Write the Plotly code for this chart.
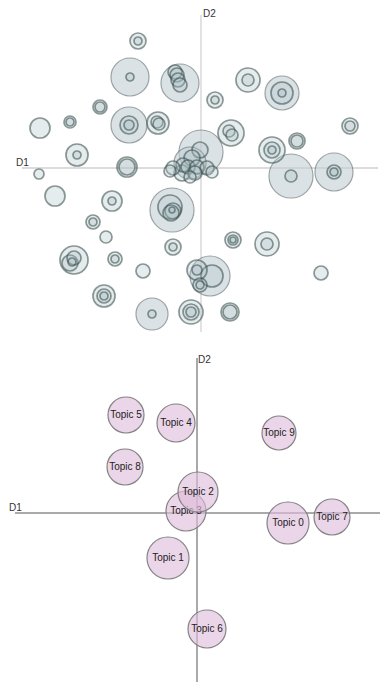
import plotly.graph_objects as go

# ---------------- Top panel: word/document bubbles (D1, D2, weight) ----------------
ring_d1 = [
    -0.63, -0.63,
    -0.71, -0.71,
    -0.21, -0.26, -0.24, -0.23, -0.21,
    -1.01, -1.01,
    -0.72, -0.72, -0.72,
    -0.43, -0.44, -0.42,
    -1.31, -1.31,
    -1.61,
    -1.24, -1.24,
    -0.74, -0.74,
    -1.62,
    0.47, 0.47,
    0.81, 0.81, 0.81,
    0.14, 0.14,
    1.49, 1.49,
    0.30, 0.28, 0.31,
    0.96, 0.96,
    0.71, 0.71, 0.71,
    0.90, 0.90,
    1.33, 1.33, 1.33,
    0.00, -0.11, -0.01, -0.09, -0.18, -0.28, -0.31, -0.13, -0.04, 0.06, 0.11, -0.19, -0.06, -0.11,
    -0.29, -0.31, -0.28, -0.30, -0.29,
    -1.46,
    -0.89, -0.89,
    -1.08, -1.08,
    -0.95,
    -1.27, -1.31, -1.27, -1.29,
    -0.86, -0.86,
    -0.58,
    -0.97, -0.97, -0.97,
    -0.49, -0.49,
    -0.10, -0.10, -0.10,
    -0.28, -0.28,
    0.32, 0.32, 0.32,
    0.66, 0.66,
    1.20,
    0.09, 0.11, -0.04, -0.04, -0.01, -0.01,
    0.29, 0.29,
]
ring_d2 = [
    1.27, 1.27,
    0.91, 0.91,
    0.85, 0.96, 0.93, 0.88, 0.83,
    0.61, 0.61,
    0.43, 0.43, 0.43,
    0.45, 0.46, 0.44,
    0.46, 0.46,
    0.40,
    0.13, 0.13,
    0.01, 0.01,
    -0.06,
    0.88, 0.88,
    0.75, 0.75, 0.75,
    0.68, 0.68,
    0.42, 0.42,
    0.35, 0.37, 0.33,
    0.27, 0.27,
    0.18, 0.18, 0.18,
    -0.08, -0.08,
    -0.04, -0.04, -0.04,
    0.16, 0.05, 0.18, 0.10, 0.03, 0.00, -0.03, 0.01, 0.01, 0.00, -0.04, -0.05, -0.05, -0.09,
    -0.42, -0.39, -0.43, -0.45, -0.42,
    -0.28,
    -0.33, -0.33,
    -0.54, -0.54,
    -0.69,
    -0.92, -0.95, -0.90, -0.94,
    -0.91, -0.91,
    -1.03,
    -1.28, -1.28, -1.28,
    -1.46, -1.46,
    -1.44, -1.44, -1.44,
    -0.79, -0.79,
    -0.72, -0.72, -0.72,
    -0.76, -0.76,
    -1.05,
    -1.08, -1.08, -1.02, -1.02, -1.17, -1.17,
    -1.44, -1.44,
]
ring_weight = [
    8, 4,
    19, 4,
    19, 7, 7, 7, 7,
    7, 5,
    18, 9, 5,
    11, 6, 6,
    6, 4,
    10,
    11, 4,
    10, 8,
    5,
    12, 6,
    17, 11, 4,
    8, 4,
    8, 5,
    13, 6, 6,
    8, 6,
    13, 8, 4,
    22, 6,
    19, 7, 4,
    22, 16, 8, 8, 7, 7, 6, 7, 7, 7, 6, 8, 7, 6,
    22, 12, 8, 8, 3,
    10,
    10, 4,
    7, 4,
    6,
    14, 8, 7, 4,
    7, 4,
    7,
    11, 7, 4,
    16, 4,
    12, 8, 5,
    8, 4,
    8, 5, 3,
    12, 6,
    7,
    20, 11, 10, 5, 7, 4,
    9, 7,
]

# ---------------- Bottom panel: topics ----------------
topic_names = ["Topic 0", "Topic 1", "Topic 2", "Topic 3", "Topic 4",
               "Topic 5", "Topic 6", "Topic 7", "Topic 8", "Topic 9"]
topic_d1 = [0.91, -0.29, 0.01, -0.11, -0.21, -0.71, 0.10, 1.35, -0.72, 0.82]
topic_d2 = [-0.10, -0.45, 0.21, 0.02, 0.90, 0.98, -1.16, -0.04, 0.46, 0.80]
topic_weight = [21, 21, 20, 20, 19, 18, 19, 18, 18, 17]

PX = 2  # weight -> marker diameter (px)

fig = go.Figure()

order = sorted(range(len(ring_weight)), key=lambda i: -ring_weight[i])
rx = [ring_d1[i] for i in order]
ry = [ring_d2[i] for i in order]
rw = [ring_weight[i] for i in order]
line_cols = ["rgba(105,118,120,0.95)" if w >= 15 else "rgba(60,82,80,0.85)" for w in rw]
line_ws = [1.2 if w >= 15 else 1.7 for w in rw]
fill_cols = ["rgba(195,207,214,0.85)" if w >= 15 else "rgba(175,196,200,0.45)" for w in rw]

fig.add_trace(go.Scatter(
    x=rx, y=ry, mode="markers", xaxis="x", yaxis="y", cliponaxis=False,
    marker=dict(size=[w * PX for w in rw], color=fill_cols,
                line=dict(color=line_cols, width=line_ws)),
    hoverinfo="skip", showlegend=False,
))

for i in reversed(range(len(topic_names))):
    fig.add_trace(go.Scatter(
        x=[topic_d1[i]], y=[topic_d2[i]], mode="markers+text",
        xaxis="x2", yaxis="y2", cliponaxis=False,
        text=[topic_names[i]], textposition="middle center",
        textfont=dict(family="Liberation Sans, Arial, sans-serif", size=10, color="#222"),
        marker=dict(size=topic_weight[i] * PX, color="rgba(222,188,218,0.62)",
                    line=dict(color="rgba(125,125,125,0.95)", width=1.2)),
        hoverinfo="skip", showlegend=False,
    ))

W, H = 380, 680
SPLIT = 336  # figure px where the panels meet
ax = dict(visible=False, showgrid=False, zeroline=False, fixedrange=True)
lab = dict(family="Liberation Sans, Arial", size=10, color="#333")
fig.update_layout(
    width=W, height=H, margin=dict(l=0, r=0, t=0, b=0),
    paper_bgcolor="white", plot_bgcolor="rgba(0,0,0,0)", showlegend=False,
    hovermode=False,
    xaxis=dict(ax, domain=[0, 1], range=[-1.93, 1.87]),
    yaxis=dict(ax, domain=[(H - SPLIT) / H, 1], range=[-1.76, 1.60]),
    xaxis2=dict(ax, domain=[0, 1], range=[-1.89, 1.91], anchor="y2"),
    yaxis2=dict(ax, domain=[0, (H - SPLIT) / H], range=[-1.75, 1.69], anchor="x2"),
    shapes=[
        dict(type="line", xref="x", yref="y", x0=-1.79, x1=1.77, y0=0, y1=0,
             line=dict(color="#dcdcdc", width=2), layer="below"),
        dict(type="line", xref="x", yref="y", x0=0, x1=0, y0=1.53, y1=-1.64,
             line=dict(color="#e2e2e2", width=2), layer="below"),
        dict(type="line", xref="x2", yref="y2", x0=-1.82, x1=1.83, y0=0, y1=0,
             line=dict(color="#555", width=1), layer="below"),
        dict(type="line", xref="x2", yref="y2", x0=0, x1=0, y0=1.55, y1=-1.69,
             line=dict(color="#555", width=1), layer="below"),
    ],
    annotations=[
        dict(text="D1", xref="x", yref="y", x=-1.79, y=0.06, showarrow=False,
             xanchor="center", font=lab),
        dict(text="D2", xref="x", yref="y", x=0.08, y=1.55, showarrow=False,
             xanchor="center", font=lab),
        dict(text="D1", xref="paper", yref="y2", x=0, y=0.06, showarrow=False,
             xanchor="left", borderpad=0, font=lab),
        dict(text="D2", xref="x2", yref="y2", x=0.07, y=1.54, showarrow=False,
             xanchor="center", font=lab),
    ],
)

fig.write_html("out.html", config={"displayModeBar": False, "staticPlot": True})
